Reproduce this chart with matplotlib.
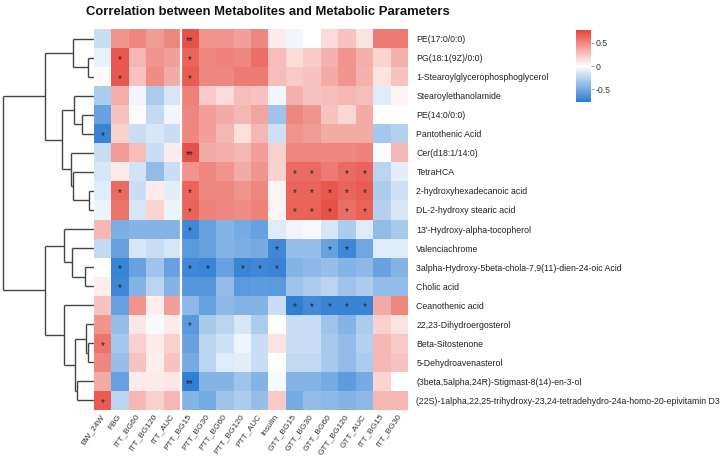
import numpy as np
import matplotlib
matplotlib.use("Agg")
import matplotlib.pyplot as plt
from matplotlib.colors import LinearSegmentedColormap

plt.rcParams['font.family'] = ['Liberation Sans', 'DejaVu Sans']

rows = ["PE(17:0/0:0)", "PG(18:1(9Z)/0:0)", "1-Stearoylglycerophosphoglycerol",
        "Stearoylethanolamide", "PE(14:0/0:0)", "Pantothenic Acid", "Cer(d18:1/14:0)",
        "TetraHCA", "2-hydroxyhexadecanoic acid", "DL-2-hydroxy stearic acid",
        "13'-Hydroxy-alpha-tocopherol", "Valenciachrome",
        "3alpha-Hydroxy-5beta-chola-7,9(11)-dien-24-oic Acid", "Cholic acid",
        "Ceanothenic acid", "22,23-Dihydroergosterol", "Beta-Sitostenone",
        "5-Dehydroavenasterol", "(3beta,5alpha,24R)-Stigmast-8(14)-en-3-ol",
        "(22S)-1alpha,22,25-trihydroxy-23,24-tetradehydro-24a-homo-20-epivitamin D3"]

cols = ["BW_24W", "FBG", "ITT_BG60", "ITT_BG120", "ITT_AUC", "PTT_BG15", "PTT_BG30",
        "PTT_BG60", "PTT_BG120", "PTT_AUC", "Insulin", "GTT_BG15", "GTT_BG30",
        "GTT_BG60", "GTT_BG120", "GTT_AUC", "ITT_BG15", "ITT_BG30"]

corr = np.array([
    [-0.20, 0.45, 0.50, 0.42, 0.50, 0.72, 0.45, 0.45, 0.40, 0.50, 0.08, -0.05, 0.00, 0.15, 0.25, 0.12, 0.55, 0.55],
    [-0.08, 0.70, 0.30, 0.45, 0.40, 0.65, 0.50, 0.52, 0.50, 0.60, 0.28, 0.15, 0.22, 0.32, 0.45, 0.33, 0.18, 0.32],
    [0.03, 0.70, 0.25, 0.48, 0.35, 0.68, 0.50, 0.50, 0.55, 0.55, 0.27, 0.22, 0.25, 0.35, 0.45, 0.32, 0.12, 0.25],
    [-0.30, 0.33, -0.05, -0.30, -0.15, 0.52, 0.22, 0.15, 0.27, 0.25, -0.05, 0.32, 0.25, 0.27, 0.30, 0.27, -0.12, 0.05],
    [-0.55, 0.25, 0.02, -0.22, -0.05, 0.50, 0.40, 0.35, 0.30, 0.38, -0.35, 0.50, 0.45, 0.25, 0.17, 0.35, 0.01, 0.00],
    [-0.72, 0.20, -0.20, -0.15, -0.20, 0.50, 0.40, 0.30, 0.13, 0.30, -0.18, 0.45, 0.42, 0.35, 0.35, 0.35, -0.33, -0.28],
    [-0.20, 0.42, 0.28, -0.20, 0.08, 0.72, 0.35, 0.33, 0.30, 0.40, 0.20, 0.50, 0.50, 0.50, 0.50, 0.52, -0.02, 0.30],
    [-0.15, 0.08, -0.17, -0.40, -0.20, 0.45, 0.50, 0.45, 0.35, 0.45, 0.20, 0.62, 0.62, 0.55, 0.62, 0.65, -0.25, -0.10],
    [-0.12, 0.62, -0.20, 0.08, -0.10, 0.65, 0.50, 0.50, 0.45, 0.50, 0.05, 0.65, 0.65, 0.70, 0.65, 0.68, -0.30, -0.18],
    [-0.07, 0.58, -0.15, 0.18, -0.07, 0.65, 0.52, 0.50, 0.48, 0.52, 0.05, 0.66, 0.66, 0.72, 0.60, 0.66, -0.27, -0.15],
    [0.30, -0.48, -0.45, -0.45, -0.45, -0.70, -0.55, -0.45, -0.50, -0.55, -0.12, -0.05, -0.03, -0.15, -0.30, -0.12, -0.40, -0.32],
    [-0.22, -0.55, -0.15, -0.20, -0.15, -0.60, -0.55, -0.45, -0.48, -0.50, -0.70, -0.38, -0.38, -0.55, -0.70, -0.52, -0.12, -0.12],
    [0.00, -0.72, -0.55, -0.35, -0.55, -0.70, -0.72, -0.55, -0.72, -0.70, -0.72, -0.45, -0.42, -0.38, -0.45, -0.42, -0.55, -0.45],
    [0.07, -0.70, -0.45, -0.25, -0.45, -0.62, -0.62, -0.40, -0.60, -0.58, -0.60, -0.35, -0.30, -0.25, -0.35, -0.30, -0.40, -0.40],
    [0.25, -0.55, 0.45, 0.07, 0.40, -0.42, -0.55, -0.42, -0.45, -0.45, -0.20, -0.75, -0.68, -0.72, -0.72, -0.72, 0.35, 0.50],
    [0.45, -0.38, 0.10, -0.03, 0.08, -0.60, -0.32, -0.25, -0.15, -0.30, 0.00, -0.20, -0.20, -0.35, -0.45, -0.30, 0.20, 0.12],
    [0.58, -0.33, 0.20, 0.08, 0.20, -0.55, -0.25, -0.18, -0.06, -0.20, 0.12, -0.20, -0.20, -0.32, -0.40, -0.28, 0.30, 0.22],
    [0.50, -0.38, 0.25, 0.07, 0.25, -0.50, -0.25, -0.12, -0.10, -0.20, 0.00, -0.22, -0.22, -0.32, -0.40, -0.30, 0.30, 0.25],
    [0.35, -0.55, 0.08, 0.08, 0.10, -0.75, -0.45, -0.45, -0.35, -0.45, -0.03, -0.45, -0.45, -0.50, -0.58, -0.50, 0.18, 0.00],
    [0.68, -0.25, 0.30, 0.20, 0.30, -0.45, -0.50, -0.35, -0.30, -0.38, 0.22, -0.50, -0.40, -0.42, -0.45, -0.42, 0.30, 0.30],
])

# significance marks: (row, col, label)
signif = [
    (0, 5, "**"), (1, 1, "*"), (1, 5, "*"), (2, 1, "*"), (2, 5, "*"),
    (5, 0, "*"), (6, 5, "**"),
    (7, 11, "*"), (7, 12, "*"), (7, 14, "*"), (7, 15, "*"),
    (8, 1, "*"), (8, 5, "*"), (8, 11, "*"), (8, 12, "*"), (8, 13, "*"), (8, 14, "*"), (8, 15, "*"),
    (9, 5, "*"), (9, 11, "*"), (9, 12, "*"), (9, 13, "*"), (9, 14, "*"), (9, 15, "*"),
    (10, 5, "*"), (11, 10, "*"), (11, 13, "*"), (11, 14, "*"),
    (12, 1, "*"), (12, 5, "*"), (12, 6, "*"), (12, 8, "*"), (12, 9, "*"), (12, 10, "*"),
    (13, 1, "*"), (14, 11, "*"), (14, 12, "*"), (14, 13, "*"), (14, 14, "*"), (14, 15, "*"),
    (15, 5, "*"), (16, 0, "*"), (18, 5, "**"), (19, 0, "*"),
]

# row dendrogram merges: (left id, right id, height); new clusters numbered from 20
merges = [
    (1, 2, 6), (0, 20, 21), (4, 5, 12), (3, 22, 20), (8, 9, 5), (7, 24, 21),
    (6, 25, 23), (23, 26, 32), (21, 27, 49), (12, 13, 9), (11, 29, 22),
    (10, 30, 30), (16, 17, 6), (15, 32, 8), (18, 19, 17), (33, 34, 19),
    (14, 35, 30), (31, 36, 49), (28, 37, 91),
]

W, H = 720, 457
fig = plt.figure(figsize=(W / 100, H / 100), dpi=100)

def px_axes(left, top, right, bottom):
    return fig.add_axes([left / W, 1 - bottom / H, (right - left) / W, (bottom - top) / H])

cmap = LinearSegmentedColormap.from_list("rb", ["#2A7BD2", "#FFFFFF", "#E5453A"])
vmax = 0.78

hm_left, hm_top, hm_right, hm_bottom = 94, 29, 408, 410
ax = px_axes(hm_left, hm_top, hm_right, hm_bottom)
nr, nc = corr.shape
im = ax.pcolormesh(np.arange(nc + 1), np.arange(nr + 1), corr, cmap=cmap,
                   vmin=-vmax, vmax=vmax, shading="flat")
ax.set_xlim(0, nc)
ax.set_ylim(nr, 0)
ax.axvline(5, color="white", lw=1.6)
for r, c, s in signif:
    ax.text(c + 0.5, r + 0.62, s, ha="center", va="center", fontsize=7, color="#222222")
ax.set_xticks(np.arange(nc) + 0.5)
ax.set_xticklabels(cols, rotation=55, ha="right", va="center", rotation_mode="anchor",
                   fontsize=6.0, color="#333333")
ax.yaxis.tick_right()
ax.set_yticks(np.arange(nr) + 0.5)
ax.set_yticklabels(rows, fontsize=6.3, color="#222222")
ax.tick_params(axis="y", length=0, pad=6)
ax.tick_params(axis="x", length=0, pad=3.5)
for sp in ax.spines.values():
    sp.set_visible(False)

# dendrogram
dax = px_axes(0, hm_top, hm_left, hm_bottom)
pos = {i: i + 0.5 for i in range(nr)}
hgt = {i: 0.0 for i in range(nr)}
for k, (a, b, h) in enumerate(merges):
    nid = nr + k
    for ch in (a, b):
        dax.plot([hgt[ch], h], [pos[ch], pos[ch]], color="#444444", lw=1.0, solid_capstyle="butt")
    dax.plot([h, h], [pos[a], pos[b]], color="#444444", lw=1.0, solid_capstyle="butt")
    pos[nid] = (pos[a] + pos[b]) / 2
    hgt[nid] = h
dax.set_xlim(94, 0)
dax.set_ylim(nr, 0)
dax.axis("off")

# colorbar
cax = px_axes(576, 30, 591, 102)
cb = fig.colorbar(im, cax=cax, ticks=[-0.5, 0, 0.5])
cb.ax.set_yticklabels(["-0.5", "0", "0.5"])
cb.outline.set_visible(False)
cb.ax.tick_params(labelsize=6.3, length=2, width=0.6, color="#888888", labelcolor="#333333", pad=1.5)

fig.text(268 / W, 1 - 12 / H, "Correlation between Metabolites and Metabolic Parameters",
         ha="center", va="center", fontsize=9.4, fontweight="bold", color="#111111")

fig.savefig("out.png", dpi=100)
